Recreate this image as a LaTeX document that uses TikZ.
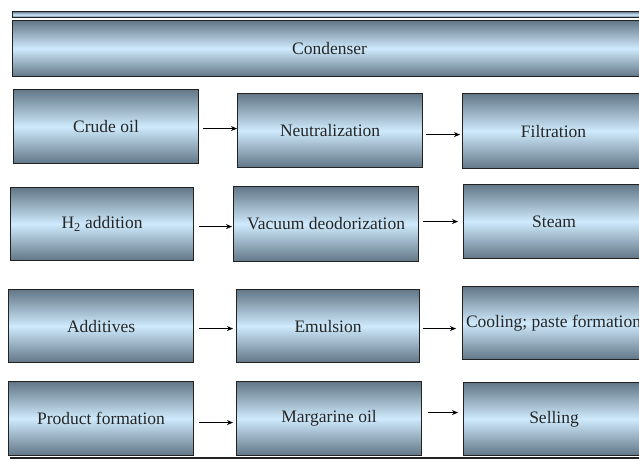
\documentclass[tikz,border=0pt]{standalone}
\usepackage{fontspec}
\setmainfont{Liberation Serif}
\usetikzlibrary{arrows.meta,calc}
\definecolor{edgeC}{RGB}{98,118,134}
\definecolor{midC}{RGB}{206,234,252}
\definecolor{lineC}{RGB}{34,34,34}
\tikzset{
  stagebox/.style={draw=lineC, line width=1.1pt, top color=edgeC, bottom color=edgeC, middle color=midC,
    inner sep=0pt, anchor=north west, font=\fontsize{17.5}{20}\selectfont, text=black!85},
  arr/.style={draw=black, line width=1.1pt, -{Stealth[length=6pt,width=5pt]}},
}
\newcommand{\stage}[6]{% name, left, top, right, bottom, text
  \node[stagebox, minimum width=#4pt-#2pt, minimum height=#5pt-#3pt] (#1) at (#2,#3) {#6};}
\begin{document}
\begin{tikzpicture}[x=1pt,y=-1pt]
\clip (0,0) rectangle (639,459);
\fill[white] (0,0) rectangle (639,459);
% top thin bar and condenser
\stage{topbar}{12}{11}{646}{17}{}
\stage{cond}{12}{20}{646}{76}{Condenser}
% row 1
\stage{crude}{13}{89}{198}{163}{Crude oil}
\stage{neut}{237}{93}{422}{167}{Neutralization}
\stage{filt}{462}{93}{644}{168}{Filtration}
% row 2
\stage{htwo}{10}{187}{193}{260}{H\textsubscript{2} addition}
\stage{vac}{233}{186}{418}{261}{Vacuum deodorization}
\stage{steam}{463}{184}{644}{258}{Steam}
% row 3
\stage{add}{8}{289}{193}{362}{Additives}
\stage{emul}{236}{289}{419}{362}{Emulsion}
\stage{cool}{462}{286}{644}{359}{\makebox[0pt]{Cooling; paste formation}}
% row 4
\stage{prod}{8}{381}{193}{455}{Product formation}
\stage{marg}{236}{381}{421}{455}{Margarine oil}
\stage{sell}{463}{382}{644}{455}{Selling}
% arrows
\draw[arr] ([xshift=4pt,yshift=-2pt]crude.east) -- ([yshift=-2pt]crude.east -| neut.west);
\draw[arr] ([xshift=3pt,yshift=-4pt]neut.east) -- ([xshift=-2pt,yshift=-4pt]neut.east -| filt.west);
\draw[arr] ([xshift=5pt,yshift=-2.5pt]htwo.east) -- ([xshift=-1pt,yshift=-2.5pt]htwo.east -| vac.west);
\draw[arr] ([xshift=4pt,yshift=2.5pt]vac.east) -- ([xshift=-5pt,yshift=2.5pt]vac.east -| steam.west);
\draw[arr] ([xshift=5pt,yshift=-2.5pt]add.east) -- ([xshift=-3pt,yshift=-2.5pt]add.east -| emul.west);
\draw[arr] ([xshift=3pt,yshift=-2.5pt]emul.east) -- ([xshift=-6pt,yshift=-2.5pt]emul.east -| cool.west);
\draw[arr] ([xshift=5pt,yshift=-4pt]prod.east) -- ([xshift=-3pt,yshift=-4pt]prod.east -| marg.west);
\draw[arr] ([xshift=6pt,yshift=6pt]marg.east) -- ([xshift=-5pt,yshift=6pt]marg.east -| sell.west);
% bottom rule
\coordinate (bl) at (10,458);
\coordinate (br) at (639,458);
\draw[lineC, line width=1.2pt] (bl) -- (br);
\end{tikzpicture}
\end{document}
